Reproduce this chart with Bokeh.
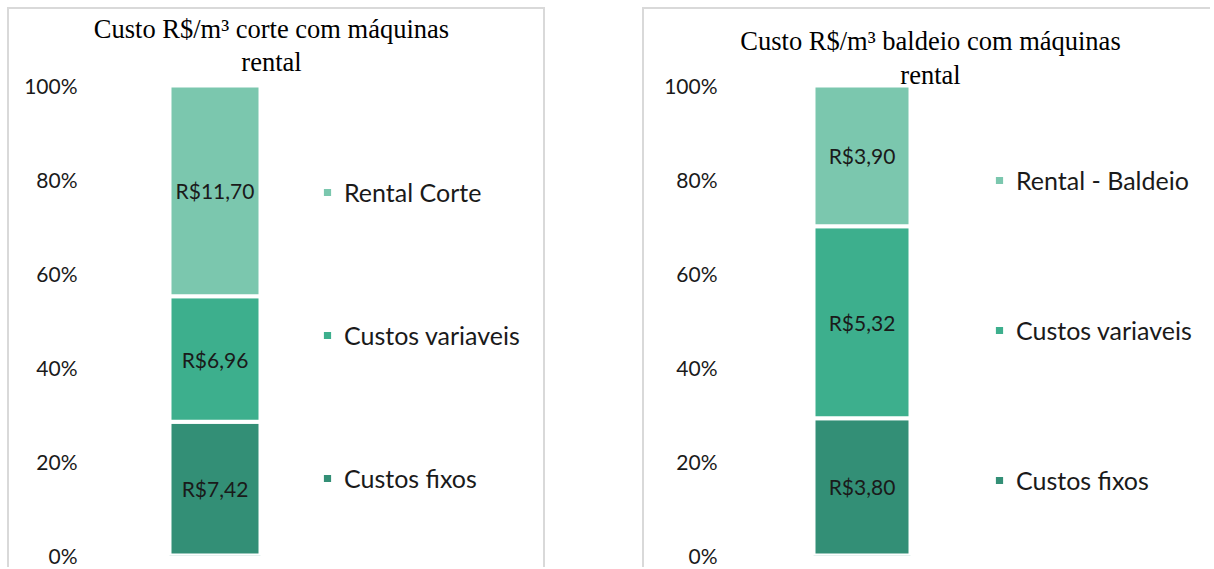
from bokeh.plotting import figure
from bokeh.models import (Range1d, Legend, LegendItem, LabelSet, Label, ColumnDataSource,
                          NumeralTickFormatter, FixedTicker, Spacer)
from bokeh.layouts import row, column
from bokeh.core.properties import value
from bokeh.embed import file_html
from bokeh.resources import INLINE

# ---------------- data ----------------
series = ["Custos fixos", "Custos variaveis", "Rental"]
corte_values = [7.42, 6.96, 11.70]
corte_labels = ["Custos fixos", "Custos variaveis", "Rental Corte"]
baldeio_values = [3.80, 5.32, 3.90]
baldeio_labels = ["Custos fixos", "Custos variaveis", "Rental - Baldeio"]
titles = ["Custo R$/m³ corte com máquinas\nrental", "Custo R$/m³ baldeio com máquinas\nrental"]
y_ticks = [0, 0.2, 0.4, 0.6, 0.8, 1.0]

colors = ["#338F76", "#3DAF8D", "#7BC7AE"]
SANS = "Lato"
SERIF = "Liberation Serif"

OFF_X, OFF_Y = 7, 7          # page offset of the panels
BORDER = 2                   # css border shifts the canvas content
CY = OFF_Y + BORDER
FIG_H = 569 - OFF_Y - BORDER
Y0_PAGE, Y1_PAGE = 555, 85   # pixel rows of 0% and 100%


def make_panel(values, labels, title, width, frame_left, frame_right_border, bar_center_px, bar_px,
               title_xy, legend_xy, legend_spacing, standoff, label_standoff, borders):
    fr_top = 1
    fr_bottom = FIG_H - (Y0_PAGE - CY)
    px_per_unit = Y0_PAGE - Y1_PAGE
    y_end = 1 + (Y1_PAGE - (CY + fr_top)) / px_per_unit
    frame_w = width - frame_left - frame_right_border
    span = frame_w / bar_px
    start = -bar_center_px / frame_w * span
    x_range = Range1d(start, start + span)

    p = figure(width=width, height=FIG_H, x_range=x_range, y_range=Range1d(0, y_end),
               output_backend="svg", toolbar_location=None,
               min_border_left=frame_left, min_border_right=frame_right_border,
               min_border_top=fr_top, min_border_bottom=fr_bottom)
    p.outline_line_color = None
    p.xgrid.visible = False
    p.ygrid.visible = False
    p.xaxis.visible = False
    p.background_fill_color = "white"
    p.border_fill_color = "white"

    ax = p.yaxis[0]
    ax.ticker = FixedTicker(ticks=y_ticks)
    ax.formatter = NumeralTickFormatter(format="0%")
    ax.axis_line_color = None
    ax.major_tick_line_color = None
    ax.minor_tick_line_color = None
    ax.major_label_standoff = label_standoff
    ax.major_label_text_font = SANS
    ax.major_label_text_font_size = "21px"
    ax.major_label_text_color = "#1a1a1a"

    total = sum(values)
    fracs = [v / total for v in values]
    data = {"x": [0]}
    for name, f in zip(series, fracs):
        data[name] = [f]
    src = ColumnDataSource(data)
    rends = p.vbar_stack(series, x="x", width=1, color=colors, source=src,
                         line_color="white", line_width=4)

    # data labels
    mids, acc = [], 0.0
    for f in fracs:
        mids.append(acc + f / 2)
        acc += f
    lab_src = ColumnDataSource({
        "x": [0] * len(values),
        "y": mids,
        "t": ["R$" + f"{v:.2f}".replace(".", ",") for v in values],
    })
    p.add_layout(LabelSet(x="x", y="y", text="t", source=lab_src, text_align="center",
                          text_baseline="middle", text_font=value(SANS),
                          text_font_size="21px", text_color="#1a1a1a"))

    # legend (top to bottom: rental, variaveis, fixos)
    items = [LegendItem(label=labels[i], renderers=[rends[i]]) for i in reversed(range(len(rends)))]
    leg = Legend(items=items, location=legend_xy, orientation="vertical",
                 glyph_width=14, glyph_height=14, label_height=30, spacing=legend_spacing,
                 label_standoff=standoff, padding=0, margin=0,
                 border_line_color=None, background_fill_alpha=0,
                 label_text_font=SANS, label_text_font_size="25px",
                 label_text_color="#1a1a1a")
    p.add_layout(leg, "center")

    p.add_layout(Label(x=title_xy[0], y=title_xy[1], x_units="screen", y_units="screen",
                       text=title, text_align="center", text_baseline="middle",
                       text_font=SERIF, text_font_size="26.5px", text_line_height=1.13,
                       text_color="#000000"))

    p.styles = borders
    return p


p1 = make_panel(corte_values, corte_labels, titles[0], width=538, frame_left=77,
                frame_right_border=8, bar_center_px=128.5, bar_px=91,
                title_xy=(185, 510), legend_xy=(234, 62), legend_spacing=113, standoff=10,
                label_standoff=3,
                borders={"border-top": "2px solid #d9d9d9", "border-left": "2px solid #d9d9d9",
                         "border-right": "2px solid #d9d9d9"})
p2 = make_panel(baldeio_values, baldeio_labels, titles[1], width=568, frame_left=81,
                frame_right_border=13, bar_center_px=136.5, bar_px=97,
                title_xy=(205, 497.5), legend_xy=(267, 60), legend_spacing=120, standoff=10,
                label_standoff=2,
                borders={"border-top": "2px solid #d9d9d9", "border-left": "2px solid #d9d9d9"})

layout = column(Spacer(height=OFF_Y),
                row(Spacer(width=OFF_X), p1, Spacer(width=643 - OFF_X - 538 - BORDER * 2 + 3), p2))
open("out.html", "w").write(file_html(layout, INLINE))
